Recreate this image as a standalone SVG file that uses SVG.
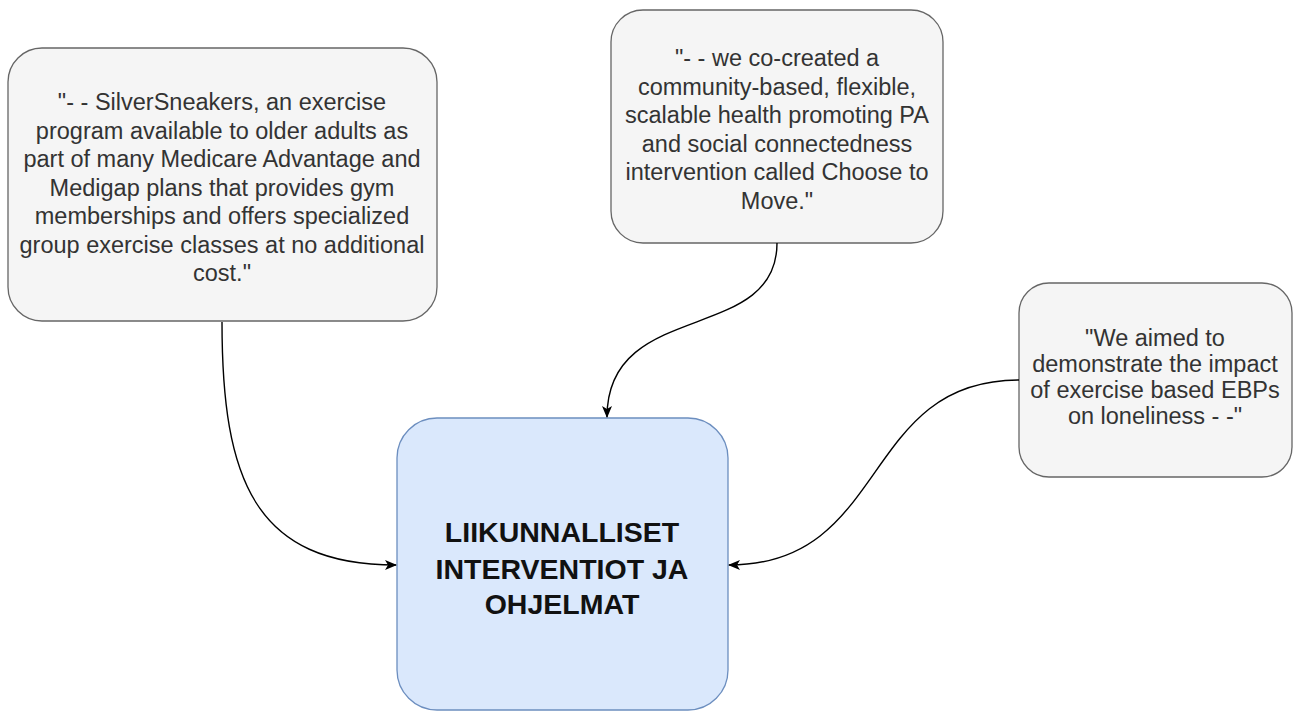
<svg xmlns="http://www.w3.org/2000/svg" width="1294" height="711" viewBox="0 0 1294 711">
  <style>
    .quote rect { fill: #f5f5f5; stroke: #666666; stroke-width: 1.3; }
    .quote text { font-family: "Liberation Sans", Arial, sans-serif; font-size: 23.5px; fill: #333333; text-anchor: middle; }
    .main rect { fill: #dae8fc; stroke: #6c8ebf; stroke-width: 1.3; }
    .main text { font-family: "Liberation Sans", Arial, sans-serif; font-size: 28.5px; font-weight: bold; fill: #111111; text-anchor: middle; }
    .edge { fill: none; stroke: #000000; stroke-width: 1.4; marker-end: url(#arrow); }
  </style>
  <defs>
    <marker id="arrow" viewBox="0 0 12 10" refX="11" refY="5" markerWidth="12" markerHeight="10" markerUnits="userSpaceOnUse" orient="auto">
      <path d="M0,0 L12,5 L0,10 L3,5 Z" fill="#000000"/>
    </marker>
  </defs>
  <rect width="1294" height="711" fill="#ffffff"/>

  <g id="node-silversneakers" class="quote">
    <rect x="8" y="48" width="429" height="273" rx="34" ry="34"/>
    <text x="222" y="110">"- - SilverSneakers, an exercise</text>
    <text x="222" y="138.5">program available to older adults as</text>
    <text x="222" y="167">part of many Medicare Advantage and</text>
    <text x="222" y="195.5">Medigap plans that provides gym</text>
    <text x="222" y="224">memberships and offers specialized</text>
    <text x="222" y="252.5">group exercise classes at no additional</text>
    <text x="222" y="281">cost."</text>
  </g>

  <g id="node-choose-to-move" class="quote">
    <rect x="611" y="10" width="332" height="233" rx="32" ry="32"/>
    <text x="777" y="66">"- - we co-created a</text>
    <text x="777" y="94.5">community-based, flexible,</text>
    <text x="777" y="123">scalable health promoting PA</text>
    <text x="777" y="151.5">and social connectedness</text>
    <text x="777" y="180">intervention called Choose to</text>
    <text x="777" y="208.5">Move."</text>
  </g>

  <g id="node-loneliness" class="quote">
    <rect x="1019" y="283" width="273" height="194" rx="30" ry="30"/>
    <text x="1155" y="346">"We aimed to</text>
    <text x="1155" y="372">demonstrate the impact</text>
    <text x="1155" y="398">of exercise based EBPs</text>
    <text x="1155" y="424">on loneliness - -"</text>
  </g>

  <g id="node-main" class="main">
    <rect x="397" y="418" width="331" height="292" rx="40" ry="40"/>
    <text x="562" y="542">LIIKUNNALLISET</text>
    <text x="562" y="579">INTERVENTIOT JA</text>
    <text x="562" y="614">OHJELMAT</text>
  </g>

  <g id="connectors">
    <path class="edge" d="M222,322 C222,480 255,565 396,565"/>
    <path class="edge" d="M777,243 C777,345 607,298 607,417"/>
    <path class="edge" d="M1019,380 C860,380 890,565 729,565"/>
  </g>
</svg>
